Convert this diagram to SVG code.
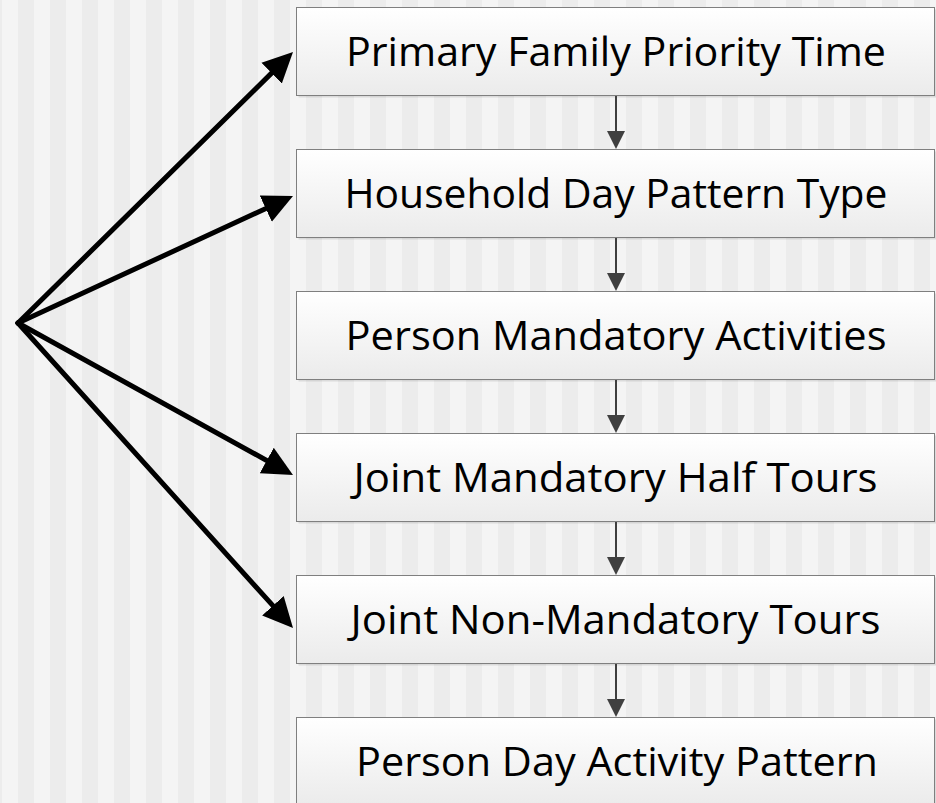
<svg xmlns="http://www.w3.org/2000/svg" width="936" height="803" viewBox="0 0 936 803">
  <defs>
    <pattern id="stripes" x="2" y="0" width="32" height="803" patternUnits="userSpaceOnUse">
      <rect x="0" y="0" width="16" height="803" fill="#f4f4f4"/>
      <rect x="16" y="0" width="16" height="803" fill="#ececec"/>
    </pattern>
    <linearGradient id="boxFill" x1="0" y1="0" x2="0" y2="1">
      <stop offset="0" stop-color="#ffffff"/>
      <stop offset="1" stop-color="#ebebeb"/>
    </linearGradient>
    <marker id="bigHead" markerUnits="userSpaceOnUse" markerWidth="32" markerHeight="32" viewBox="0 -16 32 32" refX="2" refY="0" orient="auto">
      <path d="M0,-14.5 L30,0 L0,14.5 Z" fill="#000"/>
    </marker>
    <marker id="smallHead" markerUnits="userSpaceOnUse" markerWidth="20" markerHeight="20" viewBox="0 -10 20 20" refX="1" refY="0" orient="auto">
      <path d="M0,-9 L18,0 L0,9 Z" fill="#404040"/>
    </marker>
  </defs>
  <style>
    .box { fill: url(#boxFill); stroke: #7f7f7f; stroke-width: 1; }
    .shadow { fill: #000; opacity: 0.10; }
    .label { font-family: "Open Sans", "Noto Sans", "Liberation Sans", sans-serif; font-size: 41px; fill: #000; text-anchor: middle; }
    .fan { stroke: #000; stroke-width: 5; stroke-linecap: round; fill: none; marker-end: url(#bigHead); }
    .step { stroke: #404040; stroke-width: 2; fill: none; marker-end: url(#smallHead); }
  </style>

  <!-- striped backdrop -->
  <rect x="0" y="0" width="936" height="803" fill="url(#stripes)"/>

  <!-- step boxes -->
  <g id="node-primary-family-priority-time">
    <rect class="shadow" x="298.5" y="9.5" width="638" height="88"/>
    <rect class="box" x="296.5" y="7.5" width="638" height="88"/>
    <text class="label" x="616" y="65.7" textLength="540" lengthAdjust="spacingAndGlyphs">Primary Family Priority Time</text>
  </g>
  <g id="node-household-day-pattern-type">
    <rect class="shadow" x="298.5" y="151.5" width="638" height="88"/>
    <rect class="box" x="296.5" y="149.5" width="638" height="88"/>
    <text class="label" x="616" y="207.7" textLength="543" lengthAdjust="spacingAndGlyphs">Household Day Pattern Type</text>
  </g>
  <g id="node-person-mandatory-activities">
    <rect class="shadow" x="298.5" y="293.5" width="638" height="88"/>
    <rect class="box" x="296.5" y="291.5" width="638" height="88"/>
    <text class="label" x="616" y="349.7" textLength="541" lengthAdjust="spacingAndGlyphs">Person Mandatory Activities</text>
  </g>
  <g id="node-joint-mandatory-half-tours">
    <rect class="shadow" x="298.5" y="435.5" width="638" height="88"/>
    <rect class="box" x="296.5" y="433.5" width="638" height="88"/>
    <text class="label" x="615.5" y="491.7" textLength="524" lengthAdjust="spacingAndGlyphs">Joint Mandatory Half Tours</text>
  </g>
  <g id="node-joint-non-mandatory-tours">
    <rect class="shadow" x="298.5" y="577.5" width="638" height="88"/>
    <rect class="box" x="296.5" y="575.5" width="638" height="88"/>
    <text class="label" x="615.5" y="633.7" textLength="530" lengthAdjust="spacingAndGlyphs">Joint Non-Mandatory Tours</text>
  </g>
  <g id="node-person-day-activity-pattern">
    <rect class="shadow" x="298.5" y="719.5" width="638" height="88"/>
    <rect class="box" x="296.5" y="717.5" width="638" height="88"/>
    <text class="label" x="617" y="775.7" textLength="522" lengthAdjust="spacingAndGlyphs">Person Day Activity Pattern</text>
  </g>

  <!-- connectors -->
  <g id="connectors">
    <line class="fan" x1="18" y1="323" x2="273.06" y2="71.65"/>
    <line class="fan" x1="18" y1="323" x2="267.58" y2="207.74"/>
    <line class="fan" x1="18" y1="323" x2="268.49" y2="461.45"/>
    <line class="fan" x1="18" y1="323" x2="274.25" y2="607.2"/>

    <line class="step" x1="616" y1="96" x2="616" y2="132"/>
    <line class="step" x1="616" y1="238" x2="616" y2="274"/>
    <line class="step" x1="616" y1="380" x2="616" y2="416"/>
    <line class="step" x1="616" y1="522" x2="616" y2="558"/>
    <line class="step" x1="616" y1="664" x2="616" y2="700"/>
  </g>
</svg>
